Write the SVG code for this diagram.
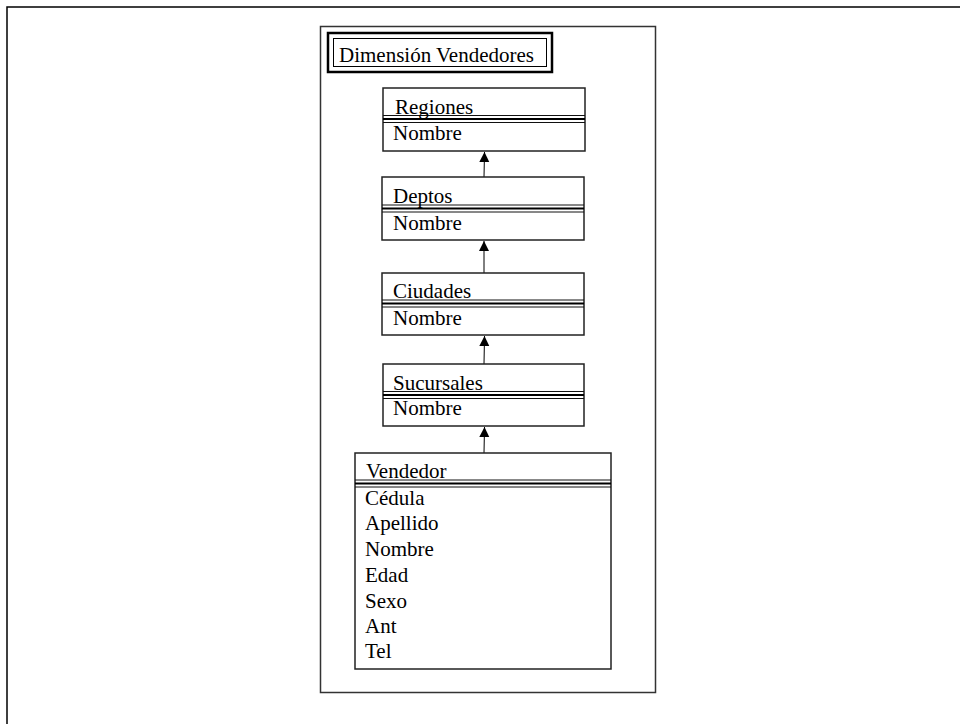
<svg xmlns="http://www.w3.org/2000/svg" width="960" height="724" viewBox="0 0 960 724">
<style>
.t{font-family:"Liberation Serif","Times New Roman",serif;font-size:21px;fill:#000}
.box{fill:#fff;stroke:#222;stroke-width:1.5}
.sep{stroke:#111;stroke-width:1}
.sepb{stroke:#000;stroke-width:2.2}
.con{stroke:#000;stroke-width:1;fill:none}
</style>
<defs>
<marker id="arr" markerWidth="10" markerHeight="12" refX="10" refY="5" orient="auto" markerUnits="userSpaceOnUse">
<path d="M0,0 L10,5 L0,10 Z" fill="#000"/>
</marker>
</defs>
<rect width="960" height="724" fill="#fff"/>
<g id="frame">
<path d="M7,724 L7,7 L960,7" fill="none" stroke="#000" stroke-width="1.5"/>
</g>
<g id="outer">
<rect x="320.5" y="26.5" width="335" height="666" fill="#fff" stroke="#333" stroke-width="1.5"/>
</g>
<g id="title">
<rect x="328" y="33" width="224" height="39" fill="#fff" stroke="#000" stroke-width="2.5"/>
<rect x="333.5" y="38.5" width="213" height="28" fill="none" stroke="#000" stroke-width="1"/>
<text class="t" x="339" y="62">Dimensión Vendedores</text>
</g>
<g id="connectors">
<line class="con" x1="484" y1="177" x2="484.5" y2="152" marker-end="url(#arr)"/>
<line class="con" x1="484" y1="273" x2="484" y2="241" marker-end="url(#arr)"/>
<line class="con" x1="484" y1="364" x2="484.5" y2="336" marker-end="url(#arr)"/>
<line class="con" x1="484" y1="453" x2="484.5" y2="427" marker-end="url(#arr)"/>
</g>
<g id="regiones">
<rect class="box" x="383" y="88" width="202" height="63"/>
<line class="sep" x1="383" y1="115.5" x2="585" y2="115.5"/>
<line class="sepb" x1="383" y1="119" x2="585" y2="119"/>
<line class="sep" x1="383" y1="122.5" x2="585" y2="122.5"/>
<text class="t" x="395" y="114">Regiones</text>
<text class="t" x="393" y="140">Nombre</text>
</g>
<g id="deptos">
<rect class="box" x="382" y="177" width="202" height="63"/>
<line class="sep" x1="382" y1="205" x2="584" y2="205"/>
<line class="sepb" x1="382" y1="208.5" x2="584" y2="208.5"/>
<line class="sep" x1="382" y1="212" x2="584" y2="212"/>
<text class="t" x="393" y="203">Deptos</text>
<text class="t" x="393" y="230">Nombre</text>
</g>
<g id="ciudades">
<rect class="box" x="382" y="273" width="202" height="62"/>
<line class="sep" x1="382" y1="300" x2="584" y2="300"/>
<line class="sepb" x1="382" y1="303.5" x2="584" y2="303.5"/>
<line class="sep" x1="382" y1="307" x2="584" y2="307"/>
<text class="t" x="393" y="298">Ciudades</text>
<text class="t" x="393" y="325">Nombre</text>
</g>
<g id="sucursales">
<rect class="box" x="383" y="364" width="201" height="62"/>
<line class="sep" x1="383" y1="391.5" x2="584" y2="391.5"/>
<line class="sepb" x1="383" y1="395" x2="584" y2="395"/>
<line class="sep" x1="383" y1="398.5" x2="584" y2="398.5"/>
<text class="t" x="393" y="390">Sucursales</text>
<text class="t" x="393" y="415">Nombre</text>
</g>
<g id="vendedor">
<rect class="box" x="355" y="453" width="256" height="216"/>
<line class="sep" x1="355" y1="480" x2="611" y2="480"/>
<line class="sepb" x1="355" y1="483.5" x2="611" y2="483.5"/>
<line class="sep" x1="355" y1="487" x2="611" y2="487"/>
<text class="t" x="366" y="478">Vendedor</text>
<text class="t" x="365" y="505">Cédula</text>
<text class="t" x="365" y="530">Apellido</text>
<text class="t" x="365" y="556">Nombre</text>
<text class="t" x="365" y="582">Edad</text>
<text class="t" x="365" y="608">Sexo</text>
<text class="t" x="365" y="633">Ant</text>
<text class="t" x="365" y="658">Tel</text>
</g>
</svg>
